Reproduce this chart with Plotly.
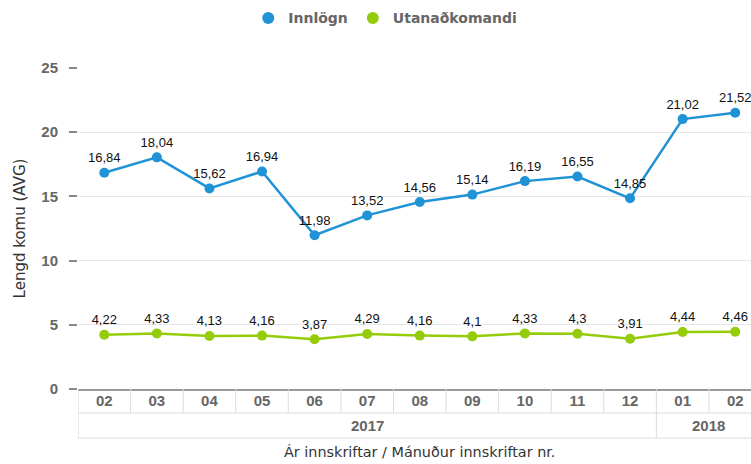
import plotly.graph_objects as go

# data
months = ["02", "03", "04", "05", "06", "07", "08", "09", "10", "11", "12", "01", "02"]
years = ["2017"] * 11 + ["2018"] * 2
innlogn = [16.84, 18.04, 15.62, 16.94, 11.98, 13.52, 14.56, 15.14, 16.19, 16.55, 14.85, 21.02, 21.52]
utanadkomandi = [4.22, 4.33, 4.13, 4.16, 3.87, 4.29, 4.16, 4.1, 4.33, 4.3, 3.91, 4.44, 4.46]

BLUE = "#1f93d6"
GREEN = "#95cc0a"
FONT = "Liberation Sans"
WIDE = "DejaVu Sans"
GRID = "#dcdcdc"


def fmt(v):
    return f"{v:g}".replace(".", ",")


x_idx = list(range(len(months)))

fig = go.Figure()
for name, vals, color in [("Innlögn", innlogn, BLUE), ("Utanaðkomandi", utanadkomandi, GREEN)]:
    fig.add_trace(go.Scatter(
        x=x_idx,
        y=vals,
        name=name,
        mode="lines+markers+text",
        line=dict(color=color, width=2.5),
        marker=dict(color=color, size=10),
        text=[fmt(v) for v in vals],
        textposition="top center",
        textfont=dict(family=FONT, size=13, color="#111"),
        cliponaxis=False,
        showlegend=False,
    ))
    # legend entry: dot only, like the original
    fig.add_trace(go.Scatter(
        x=[None], y=[None], name=name, mode="markers",
        marker=dict(color=color, size=12),
    ))

# table-like grouped category axis
row1 = -24 / 321
row2 = -49 / 321
shapes = []
for i in range(len(months) + 1):
    b = i - 0.5
    full = i == 0 or i == len(months) or years[i] != years[i - 1]
    shapes.append(dict(type="line", xref="x", yref="paper", x0=b, x1=b,
                       y0=0, y1=row2 if full else row1,
                       line=dict(color=GRID, width=1)))
for yy in (row1, row2):
    shapes.append(dict(type="line", xref="x", yref="paper", x0=-0.5, x1=len(months) - 0.5,
                       y0=yy, y1=yy, line=dict(color=GRID, width=1)))

annotations = []
for yr in sorted(set(years)):
    idx = [i for i, y in enumerate(years) if y == yr]
    annotations.append(dict(
        text=f"<b>{yr}</b>", xref="x", yref="paper",
        x=(idx[0] + idx[-1]) / 2, y=-37 / 321,
        showarrow=False, yanchor="middle",
        font=dict(family=FONT, size=15, color="#666"),
    ))

annotations.append(dict(
    text="Ár innskriftar / Mánuður innskriftar nr.", xref="x", yref="paper",
    x=(len(months) - 1) / 2, y=-63 / 321, showarrow=False, yanchor="middle",
    font=dict(family=WIDE, size=14.4, color="#333"),
))

fig.update_layout(
    width=751,
    height=464,
    margin=dict(l=78, r=0, t=68, b=75),
    plot_bgcolor="white",
    paper_bgcolor="white",
    font=dict(family=FONT),
    showlegend=True,
    legend=dict(
        orientation="h", xref="container", yref="container",
        x=0.513, y=0.995, xanchor="center", yanchor="top",
        font=dict(family=WIDE, size=14, color="#666", weight="bold"),
        traceorder="normal",
    ),
    xaxis=dict(
        range=[-0.5, 12.3],
        tickmode="array",
        tickvals=x_idx,
        ticktext=[f"<b>{m}</b>" for m in months],
        tickfont=dict(family=FONT, size=15, color="#666"),
        ticks="",
        ticklabelstandoff=-3,
        showgrid=False,
        zeroline=False,
        showline=True,
        linecolor="#999",
        linewidth=2,
        fixedrange=True,
    ),
    yaxis=dict(
        range=[0, 25],
        tickvals=[0, 5, 10, 15, 20, 25],
        ticktext=[f"<b>{v}</b>" for v in [0, 5, 10, 15, 20, 25]],
        tickfont=dict(family=FONT, size=15, color="#666"),
        ticks="outside",
        ticklen=8,
        tickcolor="#888",
        tickwidth=1.5,
        ticklabelstandoff=8,
        showgrid=True,
        gridcolor="#e6e6e6",
        zeroline=False,
        title=dict(text="Lengd komu (AVG)", font=dict(family=WIDE, size=15, color="#333"), standoff=12),
    ),
    shapes=shapes,
    annotations=annotations,
)

fig.write_html("out.html", config={"displayModeBar": False},
               post_script="document.body.style.margin='0';")
